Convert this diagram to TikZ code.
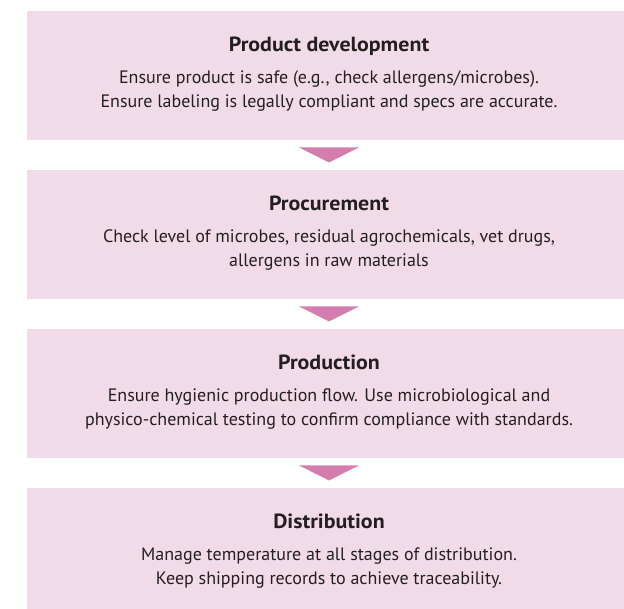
\documentclass[tikz,border=0pt]{standalone}
\usepackage{fontspec}
\setmainfont{PT Sans}
\newfontfamily\titlefont{PT Sans}[FakeStretch=1.07]
\usetikzlibrary{calc}
\definecolor{boxpink}{RGB}{242,219,232}
\definecolor{arrowpink}{RGB}{212,126,175}
\definecolor{txtc}{RGB}{35,31,32}
\begin{document}
\begin{tikzpicture}[x=1pt,y=-1pt,
  stage/.style={fill=boxpink, draw=none, minimum width=604pt, minimum height=129pt, inner sep=0pt, anchor=north},
  ttl/.style={font=\titlefont\fontsize{20.5}{24}\selectfont\bfseries, text=txtc, anchor=base, inner sep=0pt},
  body/.style={font=\fontsize{18}{21}\selectfont, text=txtc, anchor=base, inner sep=0pt},
  tri/.style={fill=arrowpink, draw=none}]
\useasboundingbox (0,0) rectangle (624,609);
% stage boxes
\node[stage] (b1) at (329,11) {};
\node[stage] (b2) at (329,170) {};
\node[stage] (b3) at (329,329) {};
\node[stage] (b4) at (329,488) {};
% texts
\node[ttl]  (t1)  at ($(b1.north)+(0,40.7)$) {Product development};
\node[body] (t1a) at ($(b1.north)+(0,72.7)$) {Ensure product is safe (e.g., check allergens/microbes).};
\node[body] (t1b) at ($(b1.north)+(0,96.3)$) {Ensure labeling is legally compliant and specs are accurate.};
\node[ttl]  (t2)  at ($(b2.north)+(0,40.7)$) {Procurement};
\node[body] (t2a) at ($(b2.north)+(0,72.7)$) {Check level of microbes, residual agrochemicals, vet drugs,};
\node[body] (t2b) at ($(b2.north)+(0,96.3)$) {allergens in raw materials};
\node[ttl]  (t3)  at ($(b3.north)+(0,40.7)$) {Production};
\node[body] (t3a) at ($(b3.north)+(0,72.7)$) {Ensure hygienic production flow. Use microbiological and};
\node[body] (t3b) at ($(b3.north)+(0,96.3)$) {physico-chemical testing to confirm compliance with standards.};
\node[ttl]  (t4)  at ($(b4.north)+(0,40.7)$) {Distribution};
\node[body] (t4a) at ($(b4.north)+(0,72.7)$) {Manage temperature at all stages of distribution.};
\node[body] (t4b) at ($(b4.north)+(0,96.3)$) {Keep shipping records to achieve traceability.};
% arrows
\foreach \a in {b1,b2,b3}{
  \fill[tri] ($(\a.south)+(-30,7)$) -- ($(\a.south)+(30,7)$) -- ($(\a.south)+(0,22)$) -- cycle;
}
\end{tikzpicture}
\end{document}
